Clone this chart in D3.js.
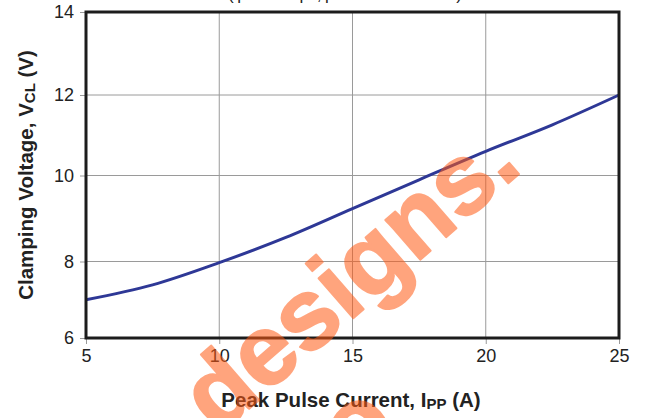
<!DOCTYPE html>
<html>
<head>
<meta charset="utf-8">
<script src="https://cdn.jsdelivr.net/npm/d3@7"></script>
<style>
  html, body { margin: 0; padding: 0; background: #fff; }
  svg { display: block; font-family: "Liberation Sans", Arial, sans-serif; }
</style>
</head>
<body>
<div id="chart"></div>
<script>
// values
var currents = [5, 7.5, 10, 12.5, 15, 17.5, 20, 22.5, 25];
var clampVolts = [7.0, 7.39, 7.97, 8.56, 9.23, 9.9, 10.6, 11.26, 12.0];
var xTicks = [5, 10, 15, 20, 25];
var yTicks = [6, 8, 10, 12, 14];

var width = 645, height = 418;
var margin = {top: 12, right: 26, bottom: 80, left: 86};
var plotW = width - margin.left - margin.right;
var plotH = height - margin.top - margin.bottom;

var svg = d3.select('#chart').append('svg')
  .attr('width', width)
  .attr('height', height);

// cut-off caption above the frame
svg.append('text')
  .attr('x', 228).attr('y', 0)
  .attr('textLength', 234)
  .style('font-size', '17px').style('fill', '#222')
  .text('(tp = 8/20 μs, per IEC 61000-4-5)');

var plot = svg.append('g')
  .attr('transform', 'translate(' + margin.left + ',' + margin.top + ')');

var x = d3.scaleLinear().domain([5, 25]).range([0, plotW]);
// the printed grid is not evenly spaced, so follow it tick by tick
var y = d3.scaleLinear().domain(yTicks).range([326, 249.5, 163.5, 83, 0]);

// grid
plot.append('g').attr('class', 'grid')
  .selectAll('line.gx').data(xTicks.slice(1, -1)).enter().append('line')
  .attr('x1', d => x(d)).attr('x2', d => x(d))
  .attr('y1', 0).attr('y2', plotH);
plot.select('.grid')
  .selectAll('line.gy').data(yTicks.slice(1, -1)).enter().append('line')
  .attr('x1', 0).attr('x2', plotW)
  .attr('y1', d => y(d)).attr('y2', d => y(d));
plot.selectAll('.grid line')
  .attr('stroke', '#9a9a9a').attr('stroke-width', 1);

// axes
var xAxis = plot.append('g')
  .attr('transform', 'translate(0,' + plotH + ')')
  .call(d3.axisBottom(x).tickValues(xTicks).tickSize(6).tickPadding(5));
var yAxis = plot.append('g')
  .call(d3.axisLeft(y).tickValues(yTicks).tickSize(6).tickPadding(6));

[xAxis, yAxis].forEach(function(a) {
  a.select('.domain').remove();
  a.selectAll('.tick line').attr('stroke', '#9a9a9a');
  a.selectAll('.tick text')
    .style('font-size', '18px')
    .style('font-family', '"Liberation Sans", Arial, sans-serif')
    .attr('fill', '#222');
});

// curve
var line = d3.line()
  .x((d, i) => x(currents[i]))
  .y(d => y(d))
  .curve(d3.curveMonotoneX);

plot.append('path')
  .datum(clampVolts)
  .attr('d', line)
  .attr('fill', 'none')
  .attr('stroke', '#2e3896')
  .attr('stroke-width', 3);

// frame
plot.append('rect')
  .attr('width', plotW).attr('height', plotH)
  .attr('fill', 'none')
  .attr('stroke', '#1c1c1c')
  .attr('stroke-width', 3);

// axis titles
var xt = svg.append('text')
  .attr('x', 351).attr('y', 407)
  .attr('text-anchor', 'middle')
  .style('font-size', '20.5px').style('font-weight', 'bold').style('fill', '#222');
xt.append('tspan').text('Peak Pulse Current, I');
xt.append('tspan').style('font-size', '15px').attr('dy', 2).text('PP');
xt.append('tspan').attr('dy', -2).text(' (A)');

var yt = svg.append('text')
  .attr('transform', 'translate(33,175) rotate(-90)')
  .attr('text-anchor', 'middle')
  .style('font-size', '20.5px').style('font-weight', 'bold').style('fill', '#222');
yt.append('tspan').text('Clamping Voltage, V');
yt.append('tspan').style('font-size', '15px').attr('dy', 2).text('CL');
yt.append('tspan').attr('dy', -2).text(' (V)');

// watermark
var wm = svg.append('g').style('pointer-events', 'none');
function mark(cx, cy, txt) {
  wm.append('text')
    .attr('transform', 'translate(' + cx + ',' + cy + ') rotate(-41)')
    .attr('y', 26)
    .attr('text-anchor', 'middle')
    .style('font-size', '100px').style('font-weight', 'bold')
    .style('fill', '#ff5a14').style('stroke', '#ff5a14')
    .style('stroke-width', 2).style('stroke-linejoin', 'round')
    .style('opacity', 0.55)
    .text(txt);
}
mark(354, 283, 'designs.');
mark(360, 430, 'o');
mark(430, 455, 'o');
</script>
</body>
</html>
